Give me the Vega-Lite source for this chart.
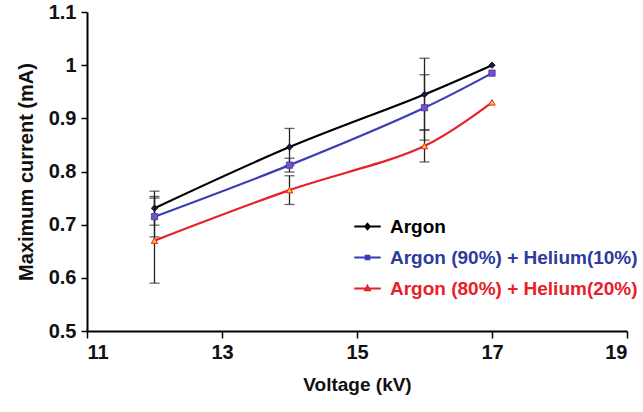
{
  "$schema": "https://vega.github.io/schema/vega-lite/v6.json",
  "width": 540,
  "height": 319,
  "autosize": {"type": "none"},
  "padding": {"left": 87, "top": 12, "right": 16, "bottom": 81},
  "background": "white",
  "config": {"view": {"stroke": null}, "font": "Liberation Sans"},
  "data": {"values": [
    {"series": "Argon", "voltage": 12, "current": 0.731, "lo": 0.699, "hi": 0.763},
    {"series": "Argon", "voltage": 14, "current": 0.846, "lo": 0.811, "hi": 0.881},
    {"series": "Argon", "voltage": 16, "current": 0.945, "lo": 0.878, "hi": 1.013},
    {"series": "Argon", "voltage": 17, "current": 1.0, "lo": null, "hi": null},
    {"series": "Argon (90%) + Helium(10%)", "voltage": 12, "current": 0.715, "lo": 0.677, "hi": 0.753},
    {"series": "Argon (90%) + Helium(10%)", "voltage": 14, "current": 0.812, "lo": 0.799, "hi": 0.825},
    {"series": "Argon (90%) + Helium(10%)", "voltage": 16, "current": 0.92, "lo": 0.859, "hi": 0.982},
    {"series": "Argon (90%) + Helium(10%)", "voltage": 17, "current": 0.985, "lo": null, "hi": null},
    {"series": "Argon (80%) + Helium(20%)", "voltage": 12, "current": 0.67, "lo": 0.59, "hi": 0.75},
    {"series": "Argon (80%) + Helium(20%)", "voltage": 14, "current": 0.765, "lo": 0.738, "hi": 0.792},
    {"series": "Argon (80%) + Helium(20%)", "voltage": 16, "current": 0.848, "lo": 0.818, "hi": 0.878},
    {"series": "Argon (80%) + Helium(20%)", "voltage": 17, "current": 0.93, "lo": null, "hi": null}
  ]},
  "encoding": {
    "x": {
      "field": "voltage", "type": "quantitative",
      "scale": {"domain": [11, 19], "nice": false, "zero": false},
      "axis": {
        "values": [11, 13, 15, 17, 19], "title": "Voltage (kV)", "grid": false,
        "domainColor": "#000", "domainWidth": 2, "tickColor": "#000", "tickWidth": 1.5, "tickSize": 7,
        "labelFontSize": 20, "labelFontWeight": "bold", "labelColor": "#111", "labelPadding": 4,
        "titleFontSize": 19, "titleFontWeight": "bold", "titleColor": "#111", "titlePadding": 13
      }
    }
  },
  "layer": [
    {
      "mark": {"type": "rule", "color": "#222", "strokeWidth": 1.3},
      "encoding": {
        "y": {"field": "lo", "type": "quantitative"},
        "y2": {"field": "hi"}
      }
    },
    {
      "mark": {"type": "tick", "orient": "horizontal", "color": "#222", "size": 10, "thickness": 1.3},
      "encoding": {"y": {"field": "lo", "type": "quantitative"}}
    },
    {
      "mark": {"type": "tick", "orient": "horizontal", "color": "#222", "size": 10, "thickness": 1.3},
      "encoding": {"y": {"field": "hi", "type": "quantitative"}}
    },
    {
      "mark": {"type": "line", "interpolate": "catmull-rom", "strokeWidth": 2.2},
      "encoding": {
        "y": {
          "field": "current", "type": "quantitative",
          "scale": {"domain": [0.5, 1.1], "nice": false, "zero": false},
          "axis": {
            "values": [0.5, 0.6, 0.7, 0.8, 0.9, 1.0, 1.1], "format": ".1~f",
            "title": "Maximum current (mA)", "grid": false,
            "domainColor": "#000", "domainWidth": 2, "tickColor": "#000", "tickWidth": 1.5, "tickSize": 6,
            "labelFontSize": 20, "labelFontWeight": "bold", "labelColor": "#111", "labelPadding": 5,
            "titleFontSize": 20, "titleFontWeight": "bold", "titleColor": "#111", "titlePadding": 12
          }
        },
        "stroke": {
          "field": "series", "type": "nominal",
          "scale": {
            "domain": ["Argon", "Argon (90%) + Helium(10%)", "Argon (80%) + Helium(20%)"],
            "range": ["#000000", "#3c3cb4", "#e8202a"]
          },
          "legend": {
            "title": null, "orient": "none", "legendX": 266, "legendY": 200,
            "padding": 0, "symbolSize": 700, "symbolStrokeWidth": 2,
            "labelFont": "Liberation Sans", "labelFontSize": 19, "labelFontWeight": "bold",
            "labelOffset": 8, "rowPadding": 6, "labelLimit": 400,
            "encode": {
              "labels": {"update": {"fill": {"signal": "datum.value === 'Argon' ? '#000000' : datum.value === 'Argon (90%) + Helium(10%)' ? '#2e3a9c' : '#e8202a'"}}},
              "symbols": {"update": {
                "shape": {"signal": "datum.value === 'Argon' ? 'M-1,0H1M0,-0.2L0.17,0L0,0.2L-0.17,0Z' : datum.value === 'Argon (90%) + Helium(10%)' ? 'M-1,0H1M-0.14,-0.14H0.14V0.14H-0.14Z' : 'M-1,0H1M0,-0.2L0.18,0.13H-0.18Z'"},
                "fill": {"signal": "datum.value === 'Argon' ? '#1a1a4a' : datum.value === 'Argon (90%) + Helium(10%)' ? '#7b4fc0' : '#f5d020'"}
              }}
            }
          }
        }
      }
    },
    {
      "transform": [{"filter": "datum.series === 'Argon'"}],
      "mark": {"type": "point", "shape": "diamond", "filled": true, "size": 40, "fill": "#1a1a4a", "stroke": "#000", "strokeWidth": 0.8, "opacity": 1},
      "encoding": {"y": {"field": "current", "type": "quantitative"}}
    },
    {
      "transform": [{"filter": "datum.series === 'Argon (90%) + Helium(10%)'"}],
      "mark": {"type": "point", "shape": "square", "filled": true, "size": 40, "fill": "#7b4fc0", "stroke": "#3c3cb4", "strokeWidth": 0.8, "opacity": 1},
      "encoding": {"y": {"field": "current", "type": "quantitative"}}
    },
    {
      "transform": [{"filter": "datum.series === 'Argon (80%) + Helium(20%)'"}],
      "mark": {"type": "point", "shape": "triangle-up", "filled": true, "size": 40, "fill": "#f5d020", "stroke": "#e8202a", "strokeWidth": 1, "opacity": 1},
      "encoding": {"y": {"field": "current", "type": "quantitative"}}
    }
  ]
}
